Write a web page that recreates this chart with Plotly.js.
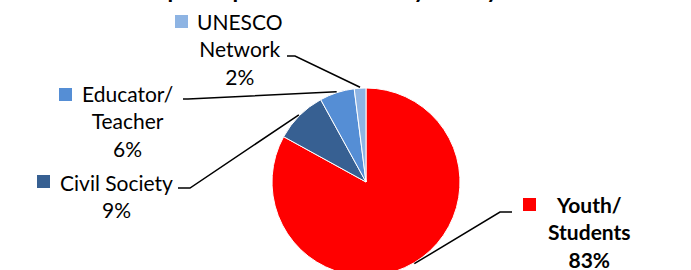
<!DOCTYPE html>
<html>
<head>
<meta charset="utf-8">
<script src="https://cdn.plot.ly/plotly-3.0.1.min.js"></script>
<style>
  html, body { margin: 0; padding: 0; width: 691px; height: 270px; overflow: hidden; background: #fff; }
  #chart { position: absolute; left: 0; top: -40px; width: 691px; height: 340px; }
</style>
</head>
<body>
<div id="chart"></div>
<script>
// ---- data ----
const categories = ["Youth/ Students", "Civil Society", "Educator/ Teacher", "UNESCO Network"];
const labelLines = [["Youth/", "Students"], ["Civil Society"], ["Educator/", "Teacher"], ["UNESCO", "Network"]];
const values = [83, 9, 6, 2];
const colors = ["#FF0000", "#376092", "#558ED5", "#8EB4E3"];
const titleText = "Most of the participants in the survey were youth/students";

// ---- layout helpers (pixel positions in the 691x270 page) ----
const W = 691, H = 340, TOP = 40;
const px = x => x / W;
const py = y => 1 - (y + TOP) / H;

const cx = 366, cy = 182, R = 94;           // pie centre / radius on page
const domainX = [px(cx - R), px(cx + R)];
const domainY = [py(cy + R), py(cy - R)];

// label block placement (centre of text), marker square and leader start
const labelPos = [
  { x: 589, y: 232, bold: true, sq: [523, 198], lead: [[512, 212], [500, 212]] },
  { x: 116, y: 196, bold: false, sq: [37, 175], lead: [[178, 188], [190, 188]] },
  { x: 128, y: 121, bold: false, sq: [59, 88], lead: [[183, 99], [188, 99]] },
  { x: 240, y: 49.5, bold: false, sq: [175, 15], lead: [[287, 56], [295, 56]] }
];

const total = values.reduce((a, b) => a + b, 0);
let cum = 0;
const annotations = [];
const shapes = [];
values.forEach((v, i) => {
  const mid = (cum + v / 2) / total * 2 * Math.PI; // clockwise from 12 o'clock
  cum += v;
  const ex = cx + R * 1.01 * Math.sin(mid);
  const ey = cy - R * 1.01 * Math.cos(mid);
  const lp = labelPos[i];
  const pct = Math.round(v / total * 100) + "%";
  let txt = labelLines[i].concat([pct]).join("<br>");
  if (lp.bold) txt = "<b>" + txt + "</b>";
  annotations.push({
    xref: "paper", yref: "paper", x: px(lp.x), y: py(lp.y),
    xanchor: "center", yanchor: "middle", showarrow: false,
    text: txt, align: "center",
    font: { family: "Lato, 'Liberation Sans', sans-serif", size: 21, color: "#000" }
  });
  shapes.push({
    type: "rect", xref: "paper", yref: "paper",
    x0: px(lp.sq[0]), x1: px(lp.sq[0] + 13), y0: py(lp.sq[1] + 13), y1: py(lp.sq[1]),
    fillcolor: colors[i], line: { width: 0 }
  });
  const pts = lp.lead.concat([[ex, ey]]);
  const path = pts.map((p, k) => (k ? "L" : "M") + px(p[0]) + "," + py(p[1])).join(" ");
  shapes.push({
    type: "path", xref: "paper", yref: "paper", path: path,
    line: { color: "#000", width: 1.5 }
  });
});

// title: only its lowest part falls inside the picture, as in the reference
annotations.push({
  xref: "paper", yref: "paper", x: px(343), y: py(5),
  xanchor: "center", yanchor: "bottom", showarrow: false,
  text: "<b>" + titleText + "</b>",
  font: { family: "Lato, 'Liberation Sans', sans-serif", size: 23, color: "#000" }
});

const data = [{
  type: "pie",
  labels: categories,
  values: values,
  sort: false,
  direction: "clockwise",
  rotation: 0,
  textinfo: "none",
  hoverinfo: "label+percent",
  marker: { colors: colors, line: { color: "#FFFFFF", width: 1 } },
  domain: { x: domainX, y: domainY }
}];

const layout = {
  width: W, height: H,
  margin: { l: 0, r: 0, t: 0, b: 0 },
  paper_bgcolor: "#FFFFFF",
  showlegend: false,
  annotations: annotations,
  shapes: shapes
};

Plotly.newPlot("chart", data, layout, { displayModeBar: false, staticPlot: true });
</script>
</body>
</html>
